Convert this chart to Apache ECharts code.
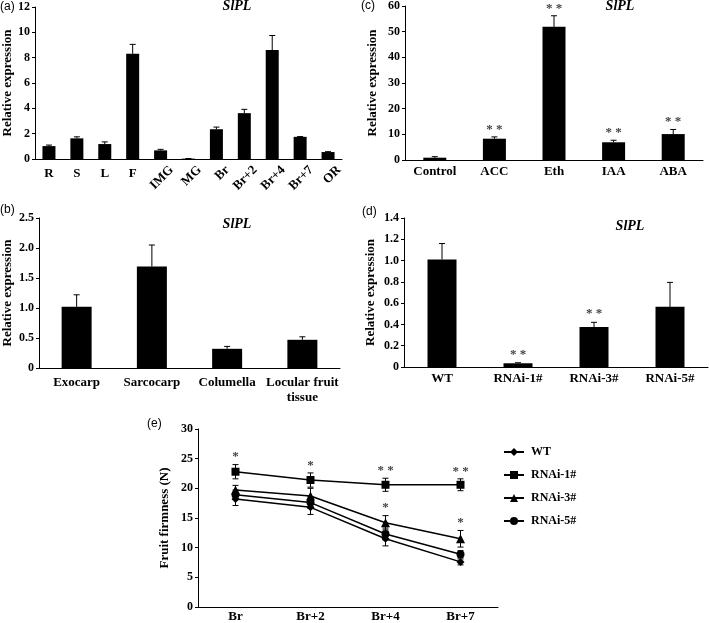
<!DOCTYPE html>
<html><head><meta charset="utf-8">
<script src="https://cdn.jsdelivr.net/npm/echarts@6/dist/echarts.min.js"></script>
<style>html,body{margin:0;padding:0;background:#fff}#c{width:709px;height:623px}</style>
</head><body><div id="c"></div>
<script>
// ---- data ----
const catA = ['R','S','L','F','IMG','MG','Br','Br+2','Br+4','Br+7','OR'];
const valA = [1.02,1.63,1.18,8.3,0.68,0.03,2.35,3.62,8.6,1.75,0.55];
const errA = [0.08,0.12,0.17,0.75,0.08,0.01,0.17,0.3,1.15,0.02,0.03];
const flatA = ['R','S','L','F'];

const catB = ['Exocarp','Sarcocarp','Columella','Locular fruit\ntissue'];
const valB = [1.02,1.69,0.32,0.47];
const errB = [0.2,0.36,0.04,0.05];

const catC = ['Control','ACC','Eth','IAA','ABA'];
const valC = [0.9,8.3,51.9,6.9,10.1];
const errC = [0.4,0.7,4.3,0.8,1.8];
const sigC = ['','* *','* *','* *','* *'];

const catD = ['WT','RNAi-1#','RNAi-3#','RNAi-5#'];
const valD = [1.01,0.035,0.375,0.565];
const errD = [0.15,0.005,0.045,0.23];
const sigD = ['','* *','* *',''];

const catE = ['Br','Br+2','Br+4','Br+7'];
const namesE = ['WT','RNAi-1#','RNAi-3#','RNAi-5#'];
const wtE = [18.2,16.8,11.5,7.6];
const r1E = [22.8,21.4,20.6,20.6];
const r3E = [19.7,18.7,14.2,11.5];
const r5E = [18.9,17.6,12.3,8.9];
const wtErr = [1.1,1.2,1.2,0.5];
const r1Err = [1.2,1.2,1.1,1.0];
const r3Err = [0.8,1.3,1.2,1.4];
const r5Err = [0.8,1.0,1.0,0.6];
const sigE1 = ['*','*','* *','* *'];
const sigE3 = ['','','*','*'];

// ---- helpers ----
const SERIF = "'Liberation Serif','Times New Roman',serif";
const SANS = "'Liberation Sans',Arial,sans-serif";
const lblStyle = {fontFamily: SERIF, fontWeight: 'bold', fontSize: 12, color: '#000'};
const lineStyle = {color: '#000', width: 1};

function xCat(gridIndex, data, extra) {
  return Object.assign({
    type: 'category', gridIndex, data, position: 'bottom', offset: 0,
    axisLine: {lineStyle}, axisTick: {inside: true, length: 4, lineStyle, alignWithLabel: false, interval: 0},
    axisLabel: Object.assign({}, lblStyle, {fontSize: 13, interval: 0, margin: 6}),
    splitLine: {show: false}
  }, extra || {});
}
function yVal(gridIndex, max, interval, name, nameGap, fmt) {
  return {
    type: 'value', gridIndex, min: 0, max, interval, name, nameLocation: 'middle', nameGap,
    nameTextStyle: {fontFamily: SERIF, fontWeight: 'bold', fontSize: 13, color: '#000'},
    axisLine: {show: true, lineStyle}, axisTick: {show: true, length: 3, lineStyle},
    axisLabel: Object.assign({}, lblStyle, {margin: 5, formatter: fmt || (v => String(v))}),
    splitLine: {show: false}
  };
}
function errSeries(xi, yi, vals, errs, cap, both) {
  return {
    type: 'custom', xAxisIndex: xi, yAxisIndex: yi, z: 1, silent: true,
    data: vals.map((v, i) => [i, v, errs[i]]),
    encode: {x: 0, y: 1},
    renderItem: function (params, api) {
      const i = api.value(0), v = api.value(1), e = api.value(2);
      const t = api.coord([i, v + e]);
      const b = api.coord([i, both ? v - e : v]);
      const st = {stroke: '#000', lineWidth: 1};
      const ch = [
        {type: 'line', shape: {x1: t[0], y1: t[1], x2: b[0], y2: b[1]}, style: st},
        {type: 'line', shape: {x1: t[0] - cap, y1: t[1], x2: t[0] + cap, y2: t[1]}, style: st}
      ];
      if (both) ch.push({type: 'line', shape: {x1: b[0] - cap, y1: b[1], x2: b[0] + cap, y2: b[1]}, style: st});
      return {type: 'group', children: ch};
    }
  };
}
function sigSeries(xi, yi, vals, errs, sigs, gap) {
  return {
    type: 'custom', xAxisIndex: xi, yAxisIndex: yi, z: 5, silent: true,
    data: vals.map((v, i) => [i, v + errs[i]]),
    encode: {x: 0, y: 1},
    renderItem: function (params, api) {
      const s = sigs[params.dataIndex];
      if (!s) return null;
      const p = api.coord([api.value(0), api.value(1)]);
      return {type: 'text', x: p[0], y: p[1] - gap,
        style: {text: s, fill: '#444', font: 'bold 13px ' + SERIF, textAlign: 'center', textVerticalAlign: 'bottom'}};
    }
  };
}
function barSeries(xi, yi, vals, w) {
  return {type: 'bar', xAxisIndex: xi, yAxisIndex: yi, data: vals, barWidth: w, itemStyle: {color: '#000'}, z: 2, silent: true};
}
function lineSeries(name, vals, symbol, size) {
  return {type: 'line', name, xAxisIndex: 5, yAxisIndex: 4, data: vals, symbol, symbolSize: size,
    itemStyle: {color: '#000'}, lineStyle: {color: '#000', width: 1.5}, z: 3, silent: true};
}
const dec1 = v => v === 0 ? '0' : v.toFixed(1);

function txt(x, y, text, font, align) {
  return {type: 'text', x, y, style: {text, font, fill: '#000', textAlign: align || 'left', textVerticalAlign: 'middle'}};
}
const titleFont = 'italic bold 14px ' + SERIF;
const panelFont = '12px ' + SANS;

const option = {
  animation: false,
  backgroundColor: '#fff',
  grid: [
    {left: 35, top: 7, width: 307, height: 152},
    {left: 37, top: 218, width: 303, height: 150},
    {left: 405, top: 6, width: 298, height: 154},
    {left: 404, top: 218, width: 304, height: 149},
    {left: 198, top: 429, width: 300, height: 179},
    {left: 46, top: 7, width: 307, height: 152}
  ],
  xAxis: [
    xCat(0, catA, {axisLabel: Object.assign({}, lblStyle, {fontSize: 13, interval: 0, margin: 8,
      formatter: v => flatA.indexOf(v) >= 0 ? v : ''})}),
    xCat(5, catA, {axisLine: {show: false}, axisTick: {show: false},
      axisLabel: Object.assign({}, lblStyle, {fontSize: 13, interval: 0, margin: 9, rotate: 45,
        formatter: v => flatA.indexOf(v) >= 0 ? '' : v})}),
    xCat(1, catB, {axisLabel: Object.assign({}, lblStyle, {fontSize: 13, interval: 0, margin: 7, lineHeight: 15})}),
    xCat(2, catC, {axisLabel: Object.assign({}, lblStyle, {fontSize: 13, interval: 0, margin: 5})}),
    xCat(3, catD, {axisLabel: Object.assign({}, lblStyle, {fontSize: 13, interval: 0, margin: 5})}),
    xCat(4, catE, {axisLabel: Object.assign({}, lblStyle, {fontSize: 13, interval: 0, margin: 3})})
  ],
  yAxis: [
    yVal(0, 12, 2, 'Relative expression', 21),
    yVal(1, 2.5, 0.5, 'Relative expression', 25, dec1),
    yVal(2, 60, 10, 'Relative expression', 26),
    yVal(3, 1.4, 0.2, 'Relative expression', 27, dec1),
    yVal(4, 30, 5, 'Fruit firmness (N)', 27),
    {type: 'value', gridIndex: 5, min: 0, max: 12, show: false}
  ],
  legend: {
    left: 498, top: 441, orient: 'vertical', itemWidth: 20, itemHeight: 10, itemGap: 11,
    data: namesE,
    textStyle: {fontFamily: SERIF, fontWeight: 'bold', fontSize: 12, color: '#000', padding: [0, 0, 0, 2]}
  },
  series: [
    barSeries(0, 0, valA, 13),
    errSeries(0, 0, valA, errA, 3, false),
    barSeries(2, 1, valB, 30),
    errSeries(2, 1, valB, errB, 3, false),
    barSeries(3, 2, valC, 23),
    errSeries(3, 2, valC, errC, 3, false),
    sigSeries(3, 2, valC, errC, sigC, 1),
    barSeries(4, 3, valD, 29),
    errSeries(4, 3, valD, errD, 3, false),
    sigSeries(4, 3, valD, errD, sigD, 2),
    errSeries(5, 4, wtE, wtErr, 3, true),
    errSeries(5, 4, r1E, r1Err, 3, true),
    errSeries(5, 4, r3E, r3Err, 3, true),
    errSeries(5, 4, r5E, r5Err, 3, true),
    lineSeries('WT', wtE, 'diamond', 8),
    lineSeries('RNAi-1#', r1E, 'rect', 8),
    lineSeries('RNAi-3#', r3E, 'triangle', 9),
    lineSeries('RNAi-5#', r5E, 'circle', 8),
    sigSeries(5, 4, r1E, r1Err, sigE1, 1),
    sigSeries(5, 4, r3E, r3Err, sigE3, 1)
  ],
  graphic: [
    txt(237, 6, 'SlPL', titleFont, 'center'),
    txt(620, 6, 'SlPL', titleFont, 'center'),
    txt(237, 224, 'SlPL', titleFont, 'center'),
    txt(630, 226, 'SlPL', titleFont, 'center'),
    txt(0, 7, '(a)', panelFont),
    txt(361, 6, '(c)', panelFont),
    txt(0, 210, '(b)', panelFont),
    txt(362, 212, '(d)', panelFont),
    txt(147, 424, '(e)', panelFont)
  ]
};
const chart = echarts.init(document.getElementById('c'), null, {renderer: 'canvas'});
chart.setOption(option);
</script>
</body></html>
